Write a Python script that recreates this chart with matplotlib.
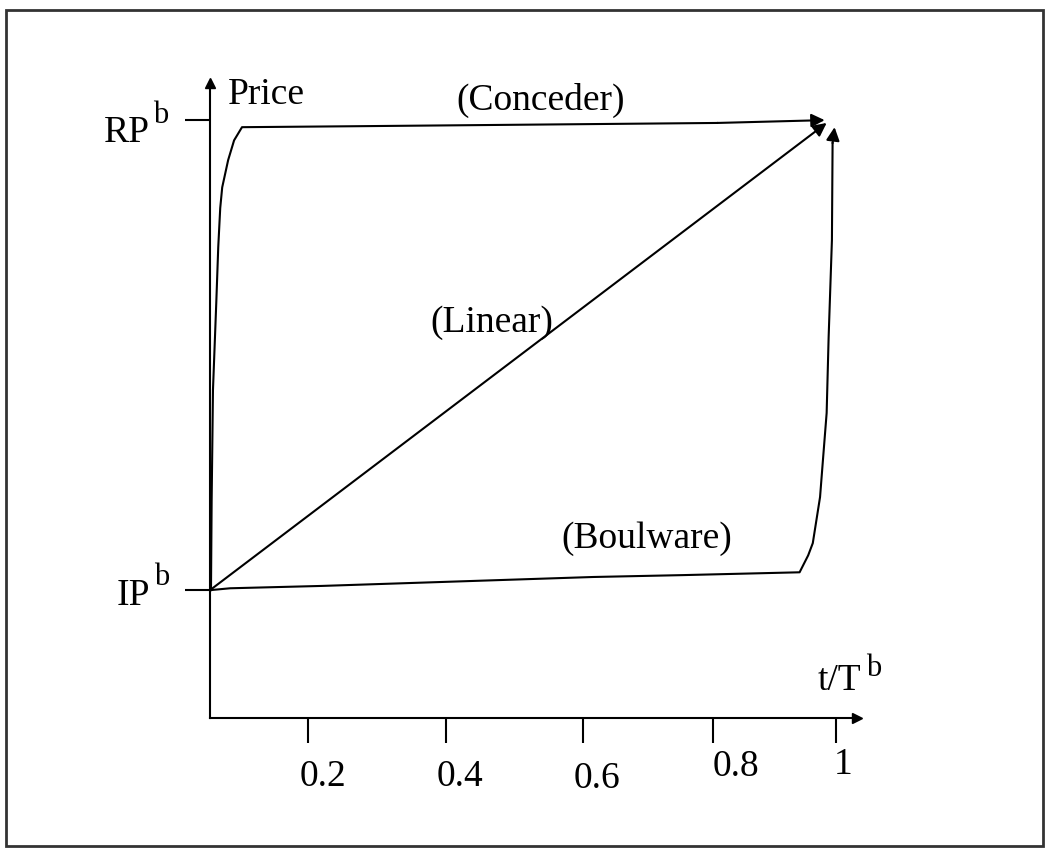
import matplotlib
matplotlib.use("Agg")
import matplotlib.pyplot as plt
from matplotlib.patches import Rectangle

plt.rcParams["font.family"] = ["Liberation Serif", "DejaVu Serif"]

# normalised time (t/T^b) and price (0 = IP^b, 1 = RP^b)
conceder_t = [0.053, 0.054, 0.056, 0.061, 0.064, 0.067, 0.070, 0.079, 0.088, 0.100, 0.268, 0.820, 0.983]
conceder_p = [0.000, 0.191, 0.426, 0.611, 0.730, 0.813, 0.857, 0.915, 0.957, 0.985, 0.987, 0.994, 1.000]

linear_t = [0.0515, 0.986]
linear_p = [0.000, 0.994]

boulware_t = [0.0515, 0.082, 0.221, 0.632, 0.768, 0.945, 0.958, 0.965, 0.976, 0.980, 0.986, 0.989, 0.994, 0.995, 0.998]
boulware_p = [0.000, 0.004, 0.009, 0.028, 0.032, 0.038, 0.074, 0.100, 0.198, 0.270, 0.377, 0.538, 0.745, 0.951, 0.985]

x_tick_pos = [0.2, 0.409, 0.617, 0.814, 1.0]
x_tick_labels = ["0.2", "0.4", "0.6", "0.8", "1"]
y_tick_pos = [0.0, 1.0]
y_tick_labels = ["IP", "RP"]
y_tick_sup = ["b", "b"]

FS = 27
FS_SUP = 22
LW = 1.5

fig = plt.figure(figsize=(10.54, 8.55), dpi=100)
ax = fig.add_axes([210 / 1054, 137 / 855, 647 / 1054, 635 / 855])
ax.set_xlim(0.0515, 1.032)
ax.set_ylim(-0.272, 1.079)
ax.patch.set_visible(False)

for side in ["top", "right"]:
    ax.spines[side].set_visible(False)
for side in ["left", "bottom"]:
    ax.spines[side].set_linewidth(LW)

# axis arrow heads
ax.plot(1, 0, marker=">", color="k", ms=7, transform=ax.transAxes, clip_on=False)
ax.plot(0, 1, marker="^", color="k", ms=7, transform=ax.transAxes, clip_on=False)

ax.set_xticks(x_tick_pos)
ax.set_xticklabels([])
ax.set_yticks(y_tick_pos)
ax.set_yticklabels([])
ax.tick_params(direction="out", length=18, width=LW)


def sup(base, text, dx, dy):
    # superscript placed against the right/top of the base text
    ax.annotate(text, xy=(1, 1), xycoords=base, xytext=(dx, dy),
                textcoords="offset pixels", ha="left", va="top", fontsize=FS_SUP)


# tick labels sit a bit loosely in the sketch
x_label_off = [(15, -68), (14, -68), (14, -70), (23, -58), (7, -56)]
for pos, lbl, (dx, dy) in zip(x_tick_pos, x_tick_labels, x_label_off):
    ax.annotate(lbl, xy=(pos, -0.272), xytext=(dx, dy), textcoords="offset pixels",
                ha="center", va="baseline", fontsize=FS)

y_label_off = [(-60, -15), (-60, -22)]
y_sup_off = [(4, 16), (3, 15)]
for pos, lbl, s, (dx, dy), (sx, sy) in zip(y_tick_pos, y_tick_labels, y_tick_sup,
                                           y_label_off, y_sup_off):
    t = ax.annotate(lbl, xy=(0.0515, pos), xytext=(dx, dy), textcoords="offset pixels",
                    ha="right", va="baseline", fontsize=FS)
    sup(t, s, sx, sy)


def curve(t, p):
    ax.plot(t[:-1], p[:-1], color="k", lw=LW, clip_on=False)
    ax.annotate("", xy=(t[-1], p[-1]), xytext=(t[-2], p[-2]),
                arrowprops=dict(arrowstyle="-|>", color="k", lw=LW,
                                mutation_scale=20, shrinkA=0, shrinkB=0))


curve(conceder_t, conceder_p)
curve(linear_t, linear_p)
curve(boulware_t, boulware_p)

ax.text(0.079, 1.034, "Price", fontsize=FS, ha="left", va="baseline")
ax.text(0.553, 1.021, "(Conceder)", fontsize=FS, ha="center", va="baseline")
ax.text(0.479, 0.549, "(Linear)", fontsize=FS, ha="center", va="baseline")
ax.text(0.714, 0.089, "(Boulware)", fontsize=FS, ha="center", va="baseline")
tt = ax.text(0.973, -0.213, "t/T", fontsize=FS, ha="left", va="baseline")
sup(tt, "b", 4, 10)

fig.add_artist(Rectangle((6 / 1054, 9 / 855), 1037 / 1054, 836 / 855,
                         transform=fig.transFigure, fill=False,
                         ec="#333333", lw=2.0))

fig.savefig("out.png", dpi=100)
